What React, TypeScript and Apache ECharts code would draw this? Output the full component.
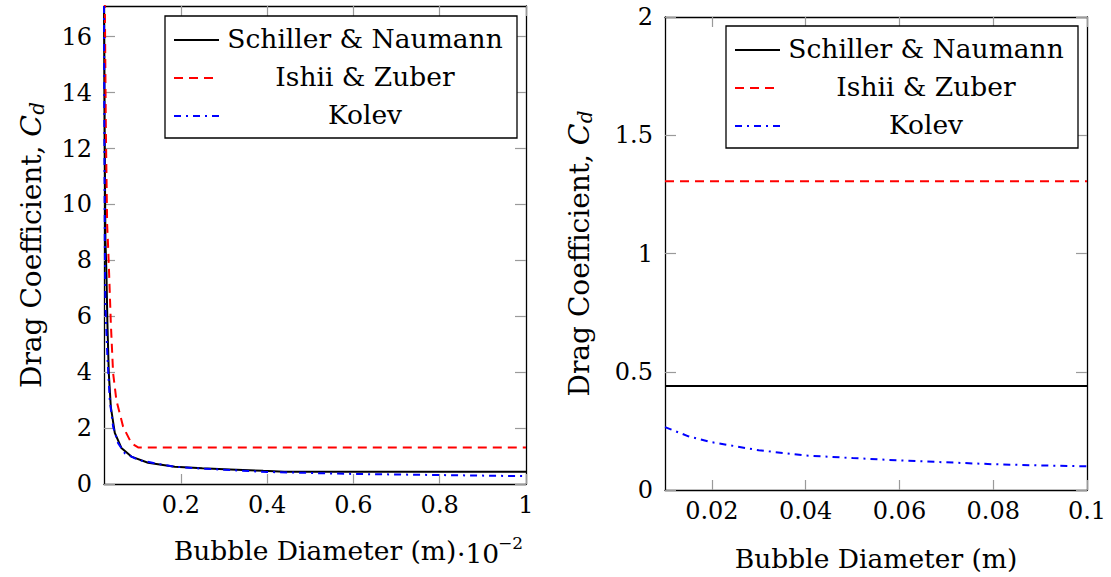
import React, { useEffect, useRef } from "react";
import * as echarts from "echarts";

const FONT = "DejaVu Serif";

// ---------- Left panel (x in units of 1e-2 m) ----------
const leftXTicks = [0.2, 0.4, 0.6, 0.8, 1];
const leftYTicks = [0, 2, 4, 6, 8, 10, 12, 14, 16];

const schillerLeftX = [0.022, 0.0235, 0.0253, 0.0276, 0.0299, 0.0331, 0.0378, 0.047, 0.0623, 0.0855, 0.124, 0.186, 0.25, 0.314, 0.391, 0.44, 1];
const schillerLeftY = [17.1, 12.5, 8.73, 7.55, 5.76, 3.97, 2.76, 1.83, 1.29, 0.98, 0.76, 0.62, 0.56, 0.52, 0.47, 0.44, 0.44];

const ishiiLeftX = [0.022, 0.024, 0.0262, 0.0293, 0.0315, 0.0338, 0.0378, 0.0431, 0.0507, 0.0663, 0.0855, 0.101, 1];
const ishiiLeftY = [19.5, 17.1, 12.85, 9.27, 8.5, 7.55, 5.76, 3.97, 3.0, 2.05, 1.46, 1.31, 1.31];

const kolevLeftX = [0.022, 0.0228, 0.0239, 0.0253, 0.0299, 0.0354, 0.0431, 0.0547, 0.0702, 0.101, 0.147, 0.186, 0.25, 0.314, 0.4, 0.6, 0.8, 1];
const kolevLeftY = [17.1, 12.5, 8.6, 6.35, 4.56, 3.0, 2.05, 1.46, 1.1, 0.86, 0.72, 0.62, 0.55, 0.5, 0.43, 0.36, 0.32, 0.28];

// ---------- Right panel (x in m) ----------
const rightXTicks = [0.02, 0.04, 0.06, 0.08, 0.1];
const rightYTicks = [0, 0.5, 1, 1.5, 2];

const schillerRightX = [0.01, 0.1];
const schillerRightY = [0.44, 0.44];

const ishiiRightX = [0.01, 0.1];
const ishiiRightY = [1.306, 1.306];

const kolevRightX = [0.01, 0.015, 0.02, 0.03, 0.04, 0.05, 0.06, 0.07, 0.08, 0.09, 0.1];
const kolevRightY = [0.266, 0.227, 0.202, 0.168, 0.146, 0.135, 0.125, 0.117, 0.109, 0.104, 0.1];

const seriesNames = ["Schiller & Naumann", "Ishii & Zuber", "Kolev"];
const seriesColors = ["#000000", "#ff0000", "#0000ff"];
const seriesDash: any[] = ["solid", [9, 6], [7, 5, 2, 5]];

const xLabel = "Bubble Diameter (m)";
const yLabel = "Drag Coefficient, {i|C}{s|d}";

const zip = (xs: number[], ys: number[]) => xs.map((x, i) => [x, ys[i]]);

const TICK_COLOR = "#9a9a9a";

function axis(
  gridIndex: number,
  position: string,
  min: number,
  max: number,
  ticks: number[],
  showLabels: boolean,
  extra: any = {}
) {
  const isX = position === "top" || position === "bottom";
  return {
    type: "value",
    gridIndex,
    position,
    min,
    max,
    axisLine: { show: true, onZero: false, lineStyle: { color: "#000", width: 1.3 } },
    axisTick: {
      show: true,
      inside: true,
      length: isX ? 10 : 11,
      customValues: ticks,
      lineStyle: { color: TICK_COLOR, width: 1.2 },
    },
    axisLabel: {
      show: showLabels,
      customValues: ticks,
      color: "#000",
      fontSize: 24,
      fontFamily: FONT,
      margin: isX ? 9 : 12,
      formatter: (v: number) => String(Number(v.toFixed(4))),
    },
    splitLine: { show: false },
    ...extra,
  };
}

const nameRich = {
  i: { fontStyle: "italic", fontSize: 28.5, fontFamily: FONT, color: "#000" },
  s: { fontStyle: "italic", fontSize: 20, fontFamily: FONT, color: "#000", verticalAlign: "bottom", padding: [12, 0, 0, 0] },
};

function xName(gap: number) {
  return {
    name: xLabel,
    nameLocation: "middle",
    nameGap: gap,
    nameTextStyle: { fontSize: 26.5, fontFamily: FONT, color: "#000" },
  };
}
function yName(gap: number) {
  return {
    name: yLabel,
    nameLocation: "middle",
    nameGap: gap,
    nameRotate: 90,
    nameTextStyle: { fontSize: 28, fontFamily: FONT, color: "#000", rich: nameRich },
  };
}

function legend(left: number, top: number) {
  const els: any[] = [
    {
      type: "rect",
      shape: { x: left, y: top, width: 352, height: 122 },
      style: { fill: "#fff", stroke: "#000", lineWidth: 1.3 },
      z: 100,
    },
  ];
  const rows = [24, 62, 100];
  rows.forEach((dy, k) => {
    els.push({
      type: "line",
      shape: { x1: left + 9, y1: top + dy, x2: left + 54, y2: top + dy },
      style: { stroke: seriesColors[k], lineWidth: 2, lineDash: k === 0 ? null : seriesDash[k] },
      z: 101,
    });
    els.push({
      type: "text",
      x: left + 200,
      y: top + dy - 2,
      style: {
        text: seriesNames[k],
        fontSize: 26.5,
        fontFamily: FONT,
        fill: "#000",
        align: "center",
        verticalAlign: "middle",
      },
      z: 101,
    });
  });
  return els;
}

function makeSeries(name: string, k: number, data: number[][], axisIdx: number) {
  return {
    name,
    type: "line",
    xAxisIndex: axisIdx,
    yAxisIndex: axisIdx,
    data,
    symbol: "none",
    showSymbol: false,
    smooth: false,
    clip: true,
    lineStyle: { color: seriesColors[k], width: 2, type: seriesDash[k] },
    z: 3 + k,
  };
}

const option: any = {
  animation: false,
  backgroundColor: "#fff",
  textStyle: { fontFamily: FONT },
  grid: [
    { left: 104, top: 6, width: 422, height: 478 },
    { left: 665, top: 17, width: 422, height: 477 },
  ],
  xAxis: [
    axis(0, "bottom", 0.022, 1, leftXTicks, true, xName(53)),
    axis(0, "top", 0.022, 1, leftXTicks, false),
    axis(1, "bottom", 0.01, 0.1, rightXTicks, true, xName(55)),
    axis(1, "top", 0.01, 0.1, rightXTicks, false),
  ],
  yAxis: [
    axis(0, "left", 0, 17.1, leftYTicks, true, yName(57)),
    axis(0, "right", 0, 17.1, leftYTicks, false),
    axis(1, "left", 0, 2, rightYTicks, true, yName(70)),
    axis(1, "right", 0, 2, rightYTicks, false),
  ],
  series: [
    makeSeries(seriesNames[0], 0, zip(schillerLeftX, schillerLeftY), 0),
    makeSeries(seriesNames[1], 1, zip(ishiiLeftX, ishiiLeftY), 0),
    makeSeries(seriesNames[2], 2, zip(kolevLeftX, kolevLeftY), 0),
    makeSeries(seriesNames[0], 0, zip(schillerRightX, schillerRightY), 2),
    makeSeries(seriesNames[1], 1, zip(ishiiRightX, ishiiRightY), 2),
    makeSeries(seriesNames[2], 2, zip(kolevRightX, kolevRightY), 2),
  ],
  graphic: [
    ...legend(165, 16),
    ...legend(726, 26),
    {
      type: "text",
      x: 457,
      y: 553,
      style: { text: "·10", fontSize: 26.5, fontFamily: FONT, fill: "#000", align: "left", verticalAlign: "middle" },
    },
    {
      type: "text",
      x: 498,
      y: 543,
      style: { text: "−2", fontSize: 17, fontFamily: FONT, fill: "#000", align: "left", verticalAlign: "middle" },
    },
  ],
};

export default function App() {
  const ref = useRef<HTMLDivElement>(null);
  useEffect(() => {
    document.body.style.margin = "0";
    const chart = echarts.init(ref.current!, null, { renderer: "svg" });
    chart.setOption(option);
    return () => chart.dispose();
  }, []);
  return <div ref={ref} style={{ width: 1111, height: 577 }} />;
}
